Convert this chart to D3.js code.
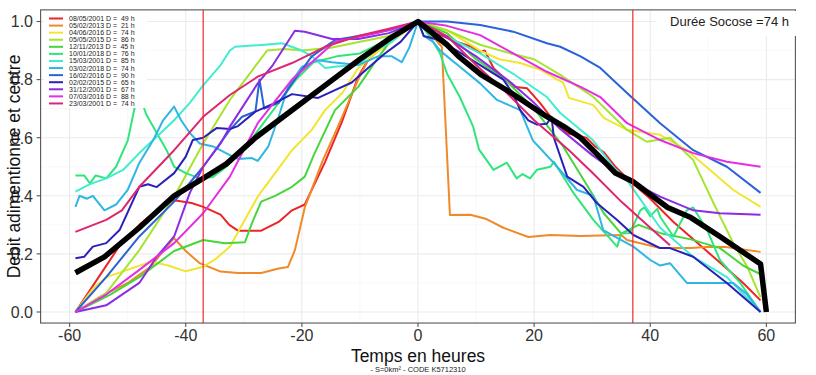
<!DOCTYPE html>
<html>
<head>
<meta charset="utf-8">
<script src="https://cdn.jsdelivr.net/npm/d3@7"></script>
<style>
  body { margin: 0; background: #fff; }
  svg { font-family: "Liberation Sans", Arial, sans-serif; }
</style>
</head>
<body>
<script>
// event dates + duration (legend)
var dates = ["08/05/2001", "05/02/2013", "04/06/2016", "05/05/2015", "12/11/2013", "10/01/2018",
             "15/03/2001", "03/02/2018", "16/02/2016", "02/02/2015", "31/12/2001", "07/03/2016", "23/03/2001"];
var durations = [49, 21, 74, 86, 45, 76, 85, 74, 90, 65, 67, 88, 74];
var colors = ["#ee2424", "#f08a28", "#f0e632", "#a6e42e", "#46d63c", "#30e67c",
              "#40ecd2", "#30b6e4", "#2a62d8", "#2a20b8", "#8a2ce4", "#e42ee4", "#de2670"];

// [hours, normalised flow]
var s_red = [[-59,0],[-55,0.12],[-51,0.24],[-48,0.3],[-45,0.35],[-42,0.385],[-39,0.375],[-37,0.362],[-34,0.335],[-32.5,0.3],[-31,0.28],[-27,0.28],[-24,0.31],[-21.7,0.35],[-19.5,0.37],[-16,0.517],[-13,0.66],[-10.3,0.81],[-8.6,0.867],[-6.2,0.913],[-2.8,0.965],[0,1],[3,0.96],[6.7,0.93],[9,0.915],[10.5,0.895],[11.5,0.9],[13,0.84],[16.4,0.775],[18.8,0.77],[21,0.72],[23.3,0.66],[25.7,0.615],[29,0.6],[30.5,0.57],[32,0.55],[34,0.5],[36,0.46],[40,0.39],[44,0.31],[48,0.24],[52,0.17],[56,0.1],[59,0.04]];
var s_orange = [[-59,0],[-55,0.05],[-50,0.1],[-46,0.156],[-43.5,0.22],[-42,0.254],[-40,0.21],[-37.6,0.168],[-34,0.139],[-31,0.134],[-27,0.134],[-24,0.15],[-22.4,0.155],[-21.2,0.213],[-19.5,0.36],[-16.5,0.517],[-13.8,0.638],[-10.3,0.8],[-8.6,0.867],[-6.2,0.925],[-3,0.96],[0,1],[2,0.96],[4.1,0.913],[5.5,0.334],[9,0.335],[11.8,0.32],[14.7,0.29],[19,0.258],[22.8,0.265],[28,0.262],[35,0.265],[36,0.248],[41.7,0.22],[47,0.22],[50.3,0.225],[53,0.224],[56,0.215],[59,0.207]];
var s_yellow = [[-59,0],[-56,0.08],[-53.7,0.12],[-50.8,0.14],[-46,0.173],[-43,0.16],[-40,0.14],[-37,0.156],[-35,0.18],[-32.4,0.225],[-27.6,0.397],[-21.7,0.557],[-18.3,0.627],[-16,0.695],[-13,0.755],[-10.3,0.84],[-7.4,0.89],[-4.5,0.93],[0,1],[5,0.97],[10.7,0.9],[14,0.87],[17.6,0.857],[21,0.835],[24,0.8],[25,0.79],[26,0.737],[30.2,0.712],[32,0.668],[36,0.627],[41.7,0.61],[46.3,0.557],[50.3,0.489],[54.3,0.42],[59,0.362]];
var s_ygreen = [[-59,0],[-53.7,0.065],[-48,0.213],[-42,0.397],[-37,0.58],[-32.4,0.73],[-29,0.82],[-26,0.9],[-23,0.905],[-20,0.9],[-15,0.91],[-10,0.93],[-5,0.95],[0,1],[5,0.97],[10.7,0.92],[16,0.89],[20,0.87],[24.5,0.816],[30.2,0.74],[36,0.627],[39.4,0.586],[43.4,0.6],[47.4,0.523],[50.9,0.375],[54.3,0.237],[56.7,0.156],[59,0.05]];
var s_green = [[-59,0],[-53,0.06],[-48,0.12],[-42,0.21],[-37,0.248],[-33.3,0.237],[-29.8,0.24],[-28.6,0.306],[-27,0.38],[-24.6,0.4],[-21.7,0.431],[-19.5,0.466],[-17.8,0.547],[-14.3,0.695],[-10.3,0.775],[-7.4,0.86],[-4.5,0.94],[0,1],[5,0.96],[10,0.87],[15,0.8],[20,0.7],[25,0.57],[29,0.44],[32,0.34],[35,0.27],[38,0.3],[42,0.27],[47,0.25],[52,0.22],[56,0.16],[59,0.13]];
var s_sgreen = [[-59,0.47],[-57.5,0.47],[-56.5,0.443],[-55.5,0.47],[-53.7,0.46],[-52,0.5],[-50,0.59],[-48.2,0.76],[-46.8,0.68],[-43.3,0.557],[-42,0.5],[-40,0.478],[-37.6,0.46],[-35.3,0.465],[-33,0.5],[-30,0.56],[-27,0.64],[-24,0.72],[-21,0.8],[-18,0.86],[-14,0.88],[-10,0.89],[-6,0.93],[-3,0.96],[0,1],[2,0.95],[3.8,0.89],[5,0.82],[7.2,0.74],[9.5,0.638],[10.5,0.56],[13,0.489],[15.3,0.514],[17,0.46],[18,0.475],[19.3,0.46],[20.5,0.49],[22.8,0.5],[23.4,0.517],[26.8,0.409],[30.2,0.317],[34.3,0.225],[35,0.27],[36.5,0.272],[38.3,0.35],[39,0.36],[40,0.33],[41.2,0.355],[41.7,0.328],[44,0.26],[46.3,0.35],[47.4,0.36],[49.8,0.282],[52,0.179],[55.5,0.1],[59,0]];
var s_cyan = [[-59,0.414],[-56.5,0.44],[-53.7,0.46],[-50.8,0.489],[-48,0.547],[-45,0.603],[-42,0.66],[-39.3,0.72],[-37,0.78],[-34,0.85],[-32.4,0.9],[-31.5,0.913],[-26.4,0.92],[-23.4,0.925],[-20,0.9],[-18.3,0.88],[-16,0.84],[-14,0.845],[-10.3,0.85],[-7.4,0.9],[-4.5,0.93],[-2.2,0.97],[0,1],[5,0.948],[10.7,0.89],[16.4,0.82],[22.2,0.74],[24.5,0.685],[30.2,0.59],[33.6,0.5],[36,0.454],[41.7,0.29],[47.4,0.19],[53.2,0.12],[59,0]];
var s_lblue = [[-59,0.362],[-58.3,0.4],[-57,0.39],[-56,0.4],[-54,0.35],[-52,0.37],[-50,0.42],[-48,0.513],[-45.6,0.592],[-43.9,0.66],[-42,0.707],[-40.8,0.66],[-39.3,0.616],[-37.6,0.58],[-35.3,0.57],[-32.4,0.54],[-31,0.527],[-28.6,0.53],[-27.6,0.52],[-25.8,0.569],[-24,0.672],[-22.4,0.775],[-20,0.844],[-17.2,0.867],[-14.8,0.86],[-10.3,0.85],[-6.9,0.88],[-4.5,0.88],[-2.8,0.86],[-1.5,0.91],[0,1],[1,0.95],[2.6,0.93],[3.8,0.9],[5,0.88],[7.2,0.844],[10.7,0.787],[13.6,0.73],[17.6,0.695],[19.8,0.59],[23.4,0.513],[27.4,0.42],[30.2,0.4],[31.9,0.282],[34.3,0.255],[37.1,0.225],[40,0.179],[41.7,0.16],[43.4,0.168],[46.3,0.1],[50.3,0.1],[54.3,0.1],[56.7,0.06],[59,0]];
var s_blue = [[-59,0],[-53.7,0.12],[-48,0.26],[-42,0.38],[-37,0.5],[-32.4,0.627],[-30.3,0.672],[-28,0.69],[-27.3,0.8],[-26.5,0.7],[-24,0.72],[-21.7,0.787],[-18.3,0.88],[-14.3,0.936],[-10.3,0.95],[-5,0.97],[0,1],[5,1.0],[10.7,0.988],[16.4,0.965],[22.2,0.925],[24.5,0.913],[28,0.88],[31.4,0.84],[36,0.754],[41.7,0.65],[47.4,0.557],[53.2,0.5],[59,0.41]];
var s_dblue = [[-59,0.185],[-57.5,0.19],[-56,0.225],[-53.7,0.237],[-51.4,0.282],[-48,0.431],[-46.5,0.44],[-45,0.43],[-42,0.478],[-40,0.535],[-38.8,0.592],[-37,0.6],[-34.7,0.633],[-32.4,0.63],[-31,0.64],[-28,0.69],[-24.6,0.72],[-21.7,0.75],[-17.2,0.737],[-14.3,0.764],[-11.4,0.79],[-8.6,0.84],[-5.7,0.89],[-3,0.93],[0,1],[1,0.95],[3,0.94],[6.7,0.9],[10.7,0.85],[14.7,0.8],[16.4,0.75],[17.6,0.695],[19,0.66],[20.5,0.645],[22.2,0.648],[23,0.672],[23.4,0.6],[25.7,0.466],[28.5,0.431],[30.8,0.375],[34.3,0.317],[37.1,0.265],[41.7,0.22],[43.4,0.22],[47.4,0.19],[53.2,0.1],[59,0]];
var s_purple = [[-59,0],[-53.7,0.023],[-48,0.1],[-45,0.19],[-42,0.26],[-39.3,0.41],[-37,0.5],[-34,0.58],[-32.4,0.638],[-27.6,0.787],[-25,0.85],[-21.2,0.968],[-19.5,0.965],[-14.8,0.94],[-10.3,0.94],[-5,0.96],[0,1],[3,0.97],[10,0.88],[16,0.79],[20,0.72],[24.5,0.63],[30,0.54],[36,0.455],[41.7,0.397],[47.4,0.35],[52,0.34],[59,0.335]];
var s_magenta = [[-59,0],[-53.7,0.06],[-48,0.145],[-42,0.237],[-37,0.34],[-32.4,0.466],[-27.6,0.65],[-21.7,0.8],[-18.3,0.86],[-14.3,0.93],[-7,0.96],[0,1],[5,0.985],[10.7,0.953],[16.4,0.89],[22.2,0.827],[28,0.775],[31.4,0.74],[36,0.65],[41.7,0.592],[47.4,0.547],[53.2,0.517],[59,0.5]];
var s_crimson = [[-59,0.276],[-53.7,0.317],[-51,0.35],[-48,0.431],[-42,0.557],[-37,0.672],[-32.4,0.747],[-27.6,0.81],[-21.7,0.857],[-16,0.913],[-10.3,0.95],[-5,0.975],[0,1],[5,0.95],[10,0.85],[15,0.76],[20,0.66],[26,0.557],[30,0.48],[35,0.38],[40,0.29],[43.4,0.23]];
var s_mean = [[-59,0.135],[-54,0.19],[-48,0.29],[-42,0.4],[-37,0.46],[-33,0.51],[-28,0.6],[-22,0.69],[-16,0.78],[-10,0.87],[-5,0.94],[0,1],[5,0.92],[7,0.88],[11,0.815],[16,0.755],[22,0.675],[25,0.64],[28,0.6],[31,0.54],[34,0.478],[37,0.449],[43,0.36],[47,0.325],[52,0.26],[59,0.165],[60,0]];

var series = [s_red, s_orange, s_yellow, s_ygreen, s_green, s_sgreen, s_cyan, s_lblue, s_blue, s_dblue, s_purple, s_magenta, s_crimson];
var socose = 74;  // hours
var xTicks = [-60, -40, -20, 0, 20, 40, 60];
var yTicks = [0, 0.2, 0.4, 0.6, 0.8, 1.0];

var W = 816, H = 375;
var x = d3.scaleLinear().domain([-65, 65]).range([40.6, 795.4]);
var y = d3.scaleLinear().domain([0, 1]).range([312, 21.5]);
var pTop = y(1.04), pBot = y(-0.038), pLeft = x(-65), pRight = x(65);

var svg = d3.select("body").append("svg").attr("width", W).attr("height", H);

// grid
var minorX = d3.range(-50, 60, 20), minorY = d3.range(0.1, 1.0, 0.2);
svg.selectAll(".gxm").data(minorX).enter().append("line")
  .attr("x1", d => x(d)).attr("x2", d => x(d)).attr("y1", pTop).attr("y2", pBot)
  .attr("stroke", "#f4f4f4").attr("stroke-width", 0.6);
svg.selectAll(".gym").data(minorY).enter().append("line")
  .attr("y1", d => y(d)).attr("y2", d => y(d)).attr("x1", pLeft).attr("x2", pRight)
  .attr("stroke", "#f4f4f4").attr("stroke-width", 0.6);
svg.selectAll(".gx").data(xTicks).enter().append("line")
  .attr("x1", d => x(d)).attr("x2", d => x(d)).attr("y1", pTop).attr("y2", pBot)
  .attr("stroke", "#ebebeb").attr("stroke-width", 1.1);
svg.selectAll(".gy").data(yTicks).enter().append("line")
  .attr("y1", d => y(d)).attr("y2", d => y(d)).attr("x1", pLeft).attr("x2", pRight)
  .attr("stroke", "#ebebeb").attr("stroke-width", 1.1);

// curves
var line = d3.line().x(d => x(d[0])).y(d => y(d[1]));
svg.selectAll(".ev").data(series).enter().append("path")
  .attr("d", line).attr("fill", "none")
  .attr("stroke", (d, i) => colors[i]).attr("stroke-width", 2)
  .attr("stroke-linejoin", "round");

svg.append("path").datum(s_mean).attr("d", line).attr("fill", "none")
  .attr("stroke", "#000").attr("stroke-width", 5.5).attr("stroke-linejoin", "round");

// socose duration markers
[-socose / 2, socose / 2].forEach(function(t) {
  svg.append("line").attr("x1", x(t)).attr("x2", x(t)).attr("y1", pTop).attr("y2", pBot)
    .attr("stroke", "#ee2a2a").attr("stroke-width", 1.2);
});

// legend
var lg = svg.append("g");
lg.append("rect").attr("x", 44).attr("y", 12).attr("width", 103).attr("height", 96).attr("fill", "#fff");
dates.forEach(function(d, i) {
  var yy = 18.5 + i * 7.08;
  lg.append("line").attr("x1", 49).attr("x2", 63).attr("y1", yy).attr("y2", yy)
    .attr("stroke", colors[i]).attr("stroke-width", 2);
  lg.append("text").attr("x", 69).attr("y", yy + 2.5).attr("font-size", 7)
    .attr("fill", "#222").style("white-space", "pre")
    .text(d + " D = " + (durations[i] < 100 ? " " : "") + durations[i] + " h");
});

// panel border
svg.append("rect").attr("x", pLeft).attr("y", pTop).attr("width", pRight - pLeft).attr("height", pBot - pTop)
  .attr("fill", "none").attr("stroke", "#555").attr("stroke-width", 1.1);

// annotation
svg.append("rect").attr("x", 656).attr("y", 11).attr("width", 160).attr("height", 25).attr("fill", "#fff");
svg.append("text").attr("x", 789).attr("y", 25.5).attr("text-anchor", "end")
  .attr("font-size", 13).attr("fill", "#222").text("Durée Socose =" + socose + " h");

// axes
svg.selectAll(".tx").data(xTicks).enter().append("line")
  .attr("x1", d => x(d)).attr("x2", d => x(d)).attr("y1", pBot).attr("y2", pBot + 4)
  .attr("stroke", "#555").attr("stroke-width", 1.1);
svg.selectAll(".lx").data(xTicks).enter().append("text")
  .attr("x", d => x(d)).attr("y", 341).attr("text-anchor", "middle")
  .attr("font-size", 16).attr("fill", "#333").text(d => d);
svg.selectAll(".ty").data(yTicks).enter().append("line")
  .attr("y1", d => y(d)).attr("y2", d => y(d)).attr("x1", pLeft - 4).attr("x2", pLeft)
  .attr("stroke", "#555").attr("stroke-width", 1.1);
svg.selectAll(".ly").data(yTicks).enter().append("text")
  .attr("x", 33).attr("y", d => y(d) + 5.8).attr("text-anchor", "end")
  .attr("font-size", 16).attr("fill", "#333").text(d => d3.format(".1f")(d));

svg.append("text").attr("x", x(0)).attr("y", 362).attr("text-anchor", "middle")
  .attr("font-size", 17.5).attr("fill", "#111").text("Temps en heures");
svg.append("text").attr("x", x(0)).attr("y", 372).attr("text-anchor", "middle")
  .attr("font-size", 7.5).attr("fill", "#222").text("- S=0km\u00b2 - CODE K5712310");
svg.append("text").attr("transform", "translate(20," + ((pTop + pBot) / 2) + ") rotate(-90)")
  .attr("text-anchor", "middle").attr("font-size", 17.5).attr("fill", "#111")
  .text("Debit adimentionne et centre");
</script>
</body>
</html>
